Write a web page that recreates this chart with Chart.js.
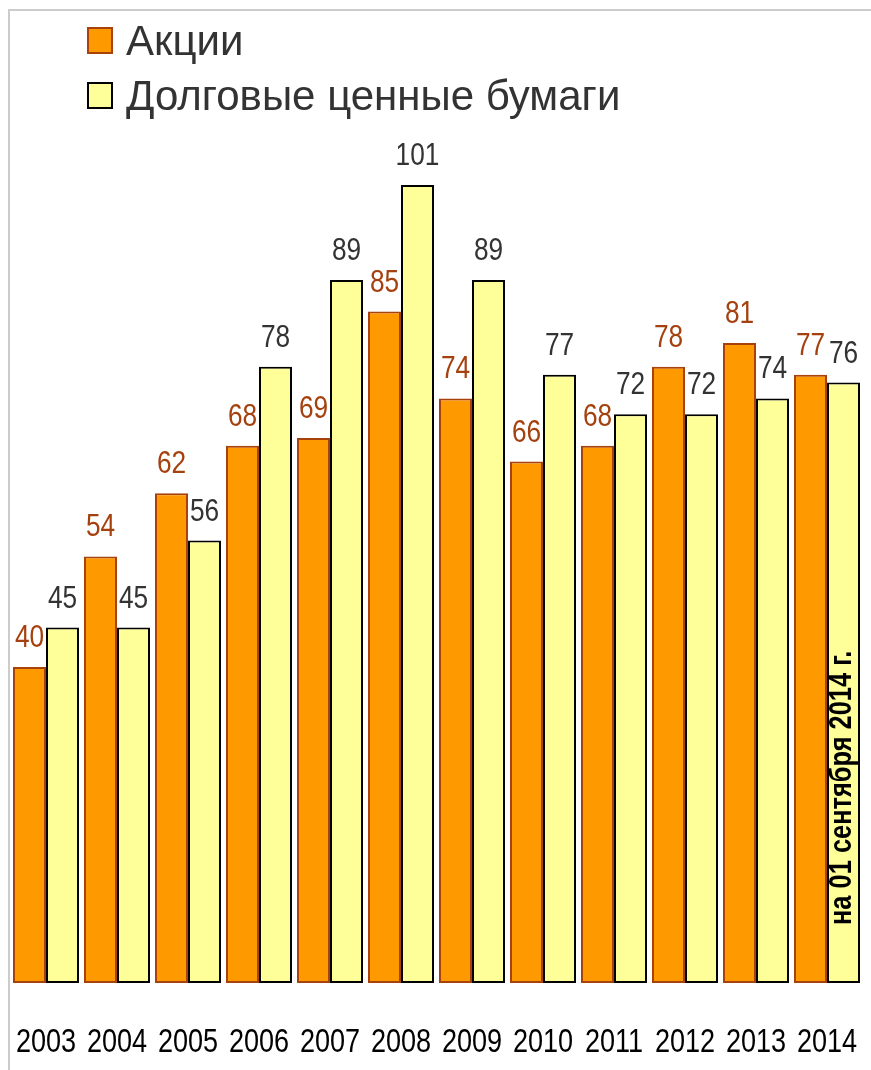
<!DOCTYPE html>
<html lang="ru">
<head>
<meta charset="utf-8">
<title>Акции и долговые ценные бумаги</title>
<script src="https://cdn.jsdelivr.net/npm/chart.js@4.4.0/dist/chart.umd.min.js"></script>
<style>
  html, body { margin: 0; padding: 0; background: #fff; }
  canvas { display: block; }
</style>
</head>
<body>
<canvas id="chart" width="871" height="1070"></canvas>
<script>
// данные
const years = ['2003', '2004', '2005', '2006', '2007', '2008', '2009', '2010', '2011', '2012', '2013', '2014'];
const stocks = [40, 54, 62, 68, 69, 85, 74, 66, 68, 78, 81, 77];
const bonds = [45, 45, 56, 78, 89, 101, 89, 77, 72, 72, 74, 76];
const seriesNames = ['Акции', 'Долговые ценные бумаги'];
const note = 'на 01 сентября 2014 г.';
const yMax = 120;

const FONT = "'Liberation Sans', Arial, sans-serif";
const NARROW = 0.82; // сжатие по горизонтали, как у узкого шрифта

const orange = '#FF9900';
const orangeEdge = '#A8420C';
const yellow = '#FFFF99';
const yellowEdge = '#000000';
const labelColors = ['#A5410E', '#333333'];

function narrowText(ctx, text, x, y) {
    ctx.save();
    ctx.translate(x, y);
    ctx.scale(NARROW, 1);
    ctx.fillText(text, 0, 0);
    ctx.restore();
}

// рамка сверху и слева
const framePlugin = {
    id: 'frame',
    beforeDraw(chart) {
        const ctx = chart.ctx;
        ctx.save();
        ctx.strokeStyle = '#cccccc';
        ctx.lineWidth = 2;
        ctx.beginPath();
        ctx.moveTo(871, 10);
        ctx.lineTo(9, 10);
        ctx.lineTo(9, 1070);
        ctx.stroke();
        ctx.restore();
    }
};

// подписи значений над столбцами
const valueLabels = {
    id: 'valueLabels',
    afterDatasetsDraw(chart) {
        const ctx = chart.ctx;
        ctx.save();
        ctx.font = '32px ' + FONT;
        ctx.textAlign = 'center';
        ctx.textBaseline = 'alphabetic';
        chart.data.datasets.forEach((ds, i) => {
            ctx.fillStyle = labelColors[i];
            chart.getDatasetMeta(i).data.forEach((bar, j) => {
                narrowText(ctx, String(ds.data[j]), bar.x, bar.y - 20);
            });
        });
        ctx.restore();
    }
};

// годы под осью
const yearLabels = {
    id: 'yearLabels',
    afterDraw(chart) {
        const x = chart.scales.x;
        const ctx = chart.ctx;
        ctx.save();
        ctx.font = '33px ' + FONT;
        ctx.fillStyle = '#000000';
        ctx.textAlign = 'center';
        ctx.textBaseline = 'alphabetic';
        chart.data.labels.forEach((lab, i) => {
            narrowText(ctx, lab, x.getPixelForValue(i), chart.chartArea.bottom + 69);
        });
        ctx.restore();
    }
};

// легенда в две строки
const legendPlugin = {
    id: 'customLegend',
    afterDraw(chart) {
        const ctx = chart.ctx;
        ctx.save();
        ctx.font = '42px ' + FONT;
        ctx.textBaseline = 'alphabetic';
        chart.data.datasets.forEach((ds, i) => {
            const top = 27 + i * 55;
            ctx.fillStyle = ds.backgroundColor;
            ctx.fillRect(87, top, 26, 27);
            ctx.strokeStyle = ds.borderColor;
            ctx.lineWidth = 2;
            ctx.strokeRect(88, top + 1, 24, 25);
            ctx.fillStyle = '#333333';
            ctx.fillText(ds.label, 126, top + 28);
        });
        ctx.restore();
    }
};

// надпись вертикально внутри последнего столбца
const notePlugin = {
    id: 'note',
    afterDatasetsDraw(chart) {
        const bar = chart.getDatasetMeta(1).data[years.length - 1];
        const ctx = chart.ctx;
        ctx.save();
        ctx.translate(bar.x - 1, chart.scales.y.getPixelForValue(0) - 58);
        ctx.rotate(-Math.PI / 2);
        ctx.font = 'bold 31px ' + FONT;
        ctx.fillStyle = '#000000';
        ctx.textAlign = 'left';
        ctx.textBaseline = 'middle';
        narrowText(ctx, note, 0, 0);
        ctx.restore();
    }
};

const ctx = document.getElementById('chart').getContext('2d');
const chart = new Chart(ctx, {
    type: 'bar',
    data: {
        labels: years,
        datasets: [{
            label: seriesNames[0],
            data: stocks,
            backgroundColor: orange,
            borderColor: orangeEdge,
            borderWidth: 2,
            borderSkipped: false
        }, {
            label: seriesNames[1],
            data: bonds,
            backgroundColor: yellow,
            borderColor: yellowEdge,
            borderWidth: 2,
            borderSkipped: false
        }]
    },
    options: {
        responsive: false,
        animation: false,
        devicePixelRatio: 1,
        categoryPercentage: 0.93,
        barPercentage: 1,
        layout: {
            padding: { top: 35, left: 10.5, right: 8.5, bottom: 87 }
        },
        scales: {
            x: {
                grid: { display: false, drawTicks: false },
                border: { display: false },
                ticks: { display: false },
                afterFit(scale) { scale.height = 0; }
            },
            y: {
                display: false,
                min: 0,
                max: yMax
            }
        },
        plugins: {
            legend: { display: false },
            tooltip: { enabled: false }
        }
    },
    plugins: [framePlugin, valueLabels, notePlugin, yearLabels, legendPlugin]
});
</script>
</body>
</html>
